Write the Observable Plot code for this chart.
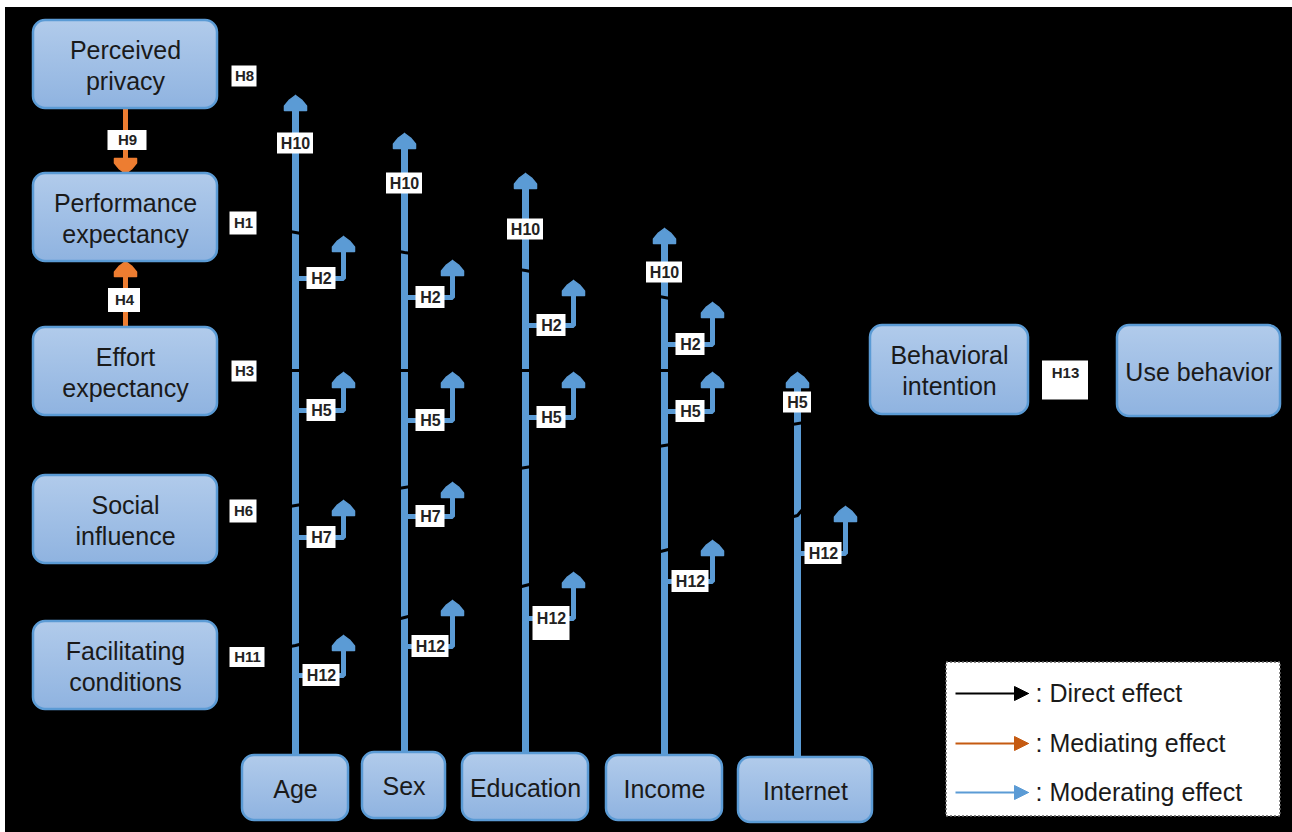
<!DOCTYPE html>
<html><head><meta charset="utf-8">
<script src="https://cdn.jsdelivr.net/npm/d3@7"></script>
<script src="https://cdn.jsdelivr.net/npm/@observablehq/plot@0.6"></script>
<style>
body{margin:0;background:#fff;font-family:"Liberation Sans",Arial,sans-serif;}
#chart{position:absolute;left:0;top:0;}
</style>
</head><body><div id="chart"></div>
<script>
// ---------- content ----------
const constructs = ["Perceived\nprivacy","Performance\nexpectancy","Effort\nexpectancy","Social\ninfluence","Facilitating\nconditions"];
const directHyp = ["H8","H1","H3","H6","H11"];
const outcomes = ["Behavioral\nintention","Use behavior"];
const outcomeHyp = "H13";
const mediations = [{from:"Perceived privacy", to:"Performance expectancy", hyp:"H9"},{from:"Effort expectancy", to:"Performance expectancy", hyp:"H4"}];
const moderators = ["Age","Sex","Education","Income","Internet"];
const modMainHyp = ["H10","H10","H10","H10","H5"];
const modBranches = [
  ["H2","H5","H7","H12"],
  ["H2","H5","H7","H12"],
  ["H2","H5","H12"],
  ["H2","H5","H12"],
  ["H12"]
];
const legendLabels = [": Direct effect",": Mediating effect",": Moderating effect"];

// ---------- layout (diagram geometry) ----------
const constructTop = [20,173,327,475,621];
const boxH = 88;
const directLabelPos = [[244,76,25,21],[243,223,27,23],[244,371,25,21],[243,511,27,23],[247,657,35,20]];
const modX = [295,404,525,664,797];
const modBoxes = [[242,348,755,820],[362,445,752,818],[462,588,753,820],[606,722,755,820],[738,872,757,822]];
const modTip = [95,133,173,228,372];
const modMainLabelY = [143,183,229,272,402];
const modBranchY = [[278,410,537,675],[297,420,516,646],[325,417,618],[344,411,581],[553]];
const modBranchTip = [[236,372,500,635],[260,372,482,600],[280,372,572],[302,372,540],[506]];
const directPaths = [
  [[217,63],[295,93],[404,131],[525,171],[664,226],[880,326]],
  [[217,218],[295,232],[404,252],[525,270],[664,297],[870,333]],
  [[217,370],[870,370]],
  [[217,518],[295,505],[404,487],[525,467],[664,445],[870,411]],
  [[217,660],[295,645],[404,617],[525,585],[664,550],[797,515],[880,414]]
];

const BLUE = "#5b9bd5", ORANGE = "#ed7d31", ORANGE_D = "#c55a11";
const FONT = "Liberation Sans, Arial, sans-serif";

// ---------- build tables ----------
const boxes = [];
constructs.forEach((c,i)=>boxes.push({label:c, x1:33, x2:217, y1:constructTop[i], y2:constructTop[i]+boxH}));
boxes.push({label:outcomes[0], x1:870, x2:1028, y1:325, y2:414});
boxes.push({label:outcomes[1], x1:1117, x2:1280, y1:325, y2:416});
moderators.forEach((m,i)=>{const b=modBoxes[i]; boxes.push({label:m, x1:b[0], x2:b[1], y1:b[2], y2:b[3]});});

const hw = 11, hh = 15;
function head(id, x, tip, dir){ // dir -1 = up, +1 = down
  const s = -dir;
  return [
    {id, x, y:tip},
    {id, x:x+hw*0.55, y:tip+s*hh*0.3},
    {id, x:x+hw, y:tip+s*hh*0.7},
    {id, x:x+hw, y:tip+s*hh},
    {id, x:x-hw, y:tip+s*hh},
    {id, x:x-hw, y:tip+s*hh*0.7},
    {id, x:x-hw*0.55, y:tip+s*hh*0.3},
    {id, x, y:tip}
  ];
}

const labels = [];
directHyp.forEach((h,i)=>{const p=directLabelPos[i]; labels.push({t:h,x:p[0],y:p[1],w:p[2],h:p[3],fs:15});});
labels.push({t:outcomeHyp,x:1065,y:380,w:46,h:39,fs:15,ty:373});

const mainLines = [], branchLines = [], blueHeads = [];
moderators.forEach((m,i)=>{
  const x = modX[i];
  mainLines.push({x, y1:modBoxes[i][2], y2:modTip[i]+hh-2});
  blueHeads.push(...head("m"+i, x, modTip[i], -1));
  const t = modMainHyp[i];
  labels.push({t, x, y:modMainLabelY[i], w:t.length>2?36:28, h:21, fs:16});
  modBranches[i].forEach((h,j)=>{
    const y = modBranchY[i][j], tip = modBranchTip[i][j], bx = x+48;
    const id = "b"+i+"_"+j;
    branchLines.push({id,x,y},{id,x:bx,y},{id,x:bx,y:tip+hh-2});
    blueHeads.push(...head(id, bx, tip, -1));
    const tall = (m==="Education" && h==="H12");
    labels.push({t:h, x:(x+bx)/2+2, y: tall? y+5 : y, ty:y, w:h.length>2?37:29, h: tall?34:22, fs:16});
  });
});

// mediations (orange)
const orangeLines = [{x:125,y1:107,y2:161},{x:125,y1:327,y2:273}];
const orangeHeads = [...head("o1",125,173,1), ...head("o2",125,261,-1)];
labels.push({t:mediations[0].hyp,x:127,y:140,w:39,h:20,fs:15});
labels.push({t:mediations[1].hyp,x:124,y:300,w:32,h:24,fs:15});

const directLines = [];
directPaths.forEach((p,i)=>p.forEach(([x,y])=>directLines.push({id:i,x,y})));
directLines.push({id:9,x:1028,y:370},{id:9,x:1117,y:370});

// legend
const legRowY = [693,743,792];
const legColors = ["#000000", ORANGE_D, BLUE];
const legLines = legendLabels.map((l,i)=>({x1:955,x2:1016,y:legRowY[i],c:legColors[i]}));
const legHeads = [];
legendLabels.forEach((l,i)=>{const y=legRowY[i]; legHeads.push({id:i,x:1028,y,c:legColors[i]},{id:i,x:1014,y:y-7,c:legColors[i]},{id:i,x:1014,y:y+7,c:legColors[i]},{id:i,x:1028,y,c:legColors[i]});});
const legText = legendLabels.map((l,i)=>({t:l,x:1035,y:legRowY[i]}));

// ---------- plot ----------
const chart = Plot.plot({
  width:1292, height:832,
  margin:0,
  x:{domain:[0,1292], axis:null},
  y:{domain:[832,0], axis:null},
  style:{fontFamily:FONT, background:"#fff"},
  marks:[
    Plot.rect([{}],{x1:5,x2:1292,y1:7,y2:832,fill:"#000"}),
    Plot.link(mainLines,{x1:"x",x2:"x",y1:"y1",y2:"y2",stroke:BLUE,strokeWidth:7}),
    Plot.line(directLines,{x:"x",y:"y",z:"id",stroke:"#000",strokeWidth:3}),
    Plot.line(branchLines,{x:"x",y:"y",z:"id",stroke:BLUE,strokeWidth:5,strokeLinejoin:"miter"}),
    Plot.line(blueHeads,{x:"x",y:"y",z:"id",fill:BLUE,stroke:BLUE,strokeWidth:1.5,strokeLinejoin:"round"}),
    Plot.link(orangeLines,{x1:"x",x2:"x",y1:"y1",y2:"y2",stroke:ORANGE,strokeWidth:5}),
    Plot.line(orangeHeads,{x:"x",y:"y",z:"id",fill:ORANGE,stroke:ORANGE,strokeWidth:1.5,strokeLinejoin:"round"}),
    Plot.rect(boxes,{x1:"x1",x2:"x2",y1:"y1",y2:"y2",fill:"url(#boxgrad)",stroke:BLUE,strokeWidth:2.5,rx:12}),
    Plot.text(boxes,{x:d=>(d.x1+d.x2)/2,y:d=>(d.y1+d.y2)/2,text:"label",fontSize:25,lineHeight:1.24,fill:"#1a1a1a",fontFamily:FONT}),
    Plot.rect(labels,{x1:d=>d.x-d.w/2,x2:d=>d.x+d.w/2,y1:d=>d.y-d.h/2,y2:d=>d.y+d.h/2,fill:"#fff"}),
    Plot.text(labels,{x:"x",y:d=>d.ty??d.y,text:"t",fontSize:"fs",fontWeight:"bold",fill:"#222",fontFamily:FONT}),
    Plot.rect([{}],{x1:946,x2:1280,y1:662,y2:816,fill:"#fff",stroke:"#666",strokeDasharray:"2,2",strokeWidth:1.5}),
    Plot.link(legLines,{x1:"x1",x2:"x2",y1:"y",y2:"y",stroke:"c",strokeWidth:2}),
    Plot.line(legHeads,{x:"x",y:"y",z:"id",fill:"c",stroke:"c",strokeWidth:1}),
    Plot.text(legText,{x:"x",y:"y",text:"t",textAnchor:"start",fontSize:25,fill:"#1a1a1a",fontFamily:FONT})
  ]
});
d3.select(chart).insert("defs",":first-child").html(
  '<linearGradient id="boxgrad" x1="0" y1="0" x2="0" y2="1"><stop offset="0" stop-color="#b1cbeb"/><stop offset="1" stop-color="#8fb3e0"/></linearGradient>');
document.getElementById("chart").appendChild(chart);
</script>
</body></html>
